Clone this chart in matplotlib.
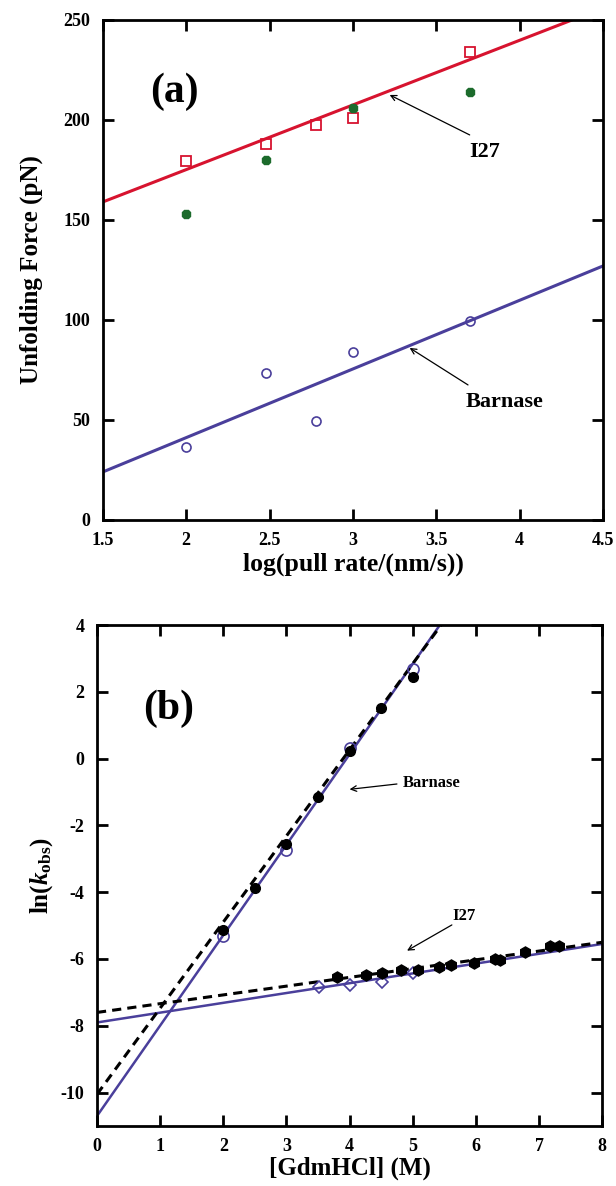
import numpy as np
import matplotlib.pyplot as plt

plt.rcParams['font.family'] = ['Liberation Serif', 'DejaVu Serif']
plt.rcParams['font.weight'] = 'bold'
plt.rcParams['axes.unicode_minus'] = False
plt.rcParams['mathtext.fontset'] = 'custom'
plt.rcParams['mathtext.rm'] = 'Liberation Serif:bold'
plt.rcParams['mathtext.it'] = 'Liberation Serif:bold:italic'

# ---- panel (a) data: unfolding force vs log pull rate ----
i27_x = [2.0, 2.48, 2.78, 3.0, 3.7]
i27_y = [179.5, 188, 197.5, 201, 234]
i27_green_x = [2.0, 2.48, 3.0, 3.7]
i27_green_y = [153, 180, 206, 214]
barnase_x = [2.0, 2.48, 2.78, 3.0, 3.7]
barnase_y = [36.5, 73.5, 49.5, 84, 99.5]
fit_x_a = [1.5, 4.5]
i27_fit_y = [159, 256]
barnase_fit_y = [24, 127]

# ---- panel (b) data: ln(k_obs) vs [GdmHCl] ----
bar_filled_x = [2.0, 2.5, 3.0, 3.5, 4.0, 4.5, 5.0]
bar_filled_y = [-5.13, -3.88, -2.55, -1.14, 0.24, 1.52, 2.45]
bar_open_x = [2.0, 3.0, 4.0, 5.0]
bar_open_y = [-5.31, -2.74, 0.32, 2.67]
i27_filled_x = [3.8, 4.26, 4.51, 4.81, 5.09, 5.41, 5.6, 5.97, 6.31, 6.39, 6.78, 7.18, 7.31]
i27_filled_y = [-6.53, -6.48, -6.41, -6.33, -6.33, -6.25, -6.18, -6.13, -6.01, -6.03, -5.8, -5.61, -5.61]
i27_open_x = [3.52, 4.01, 4.51, 5.0]
i27_open_y = [-6.83, -6.78, -6.68, -6.41]
bar_fit_x = [0, 5.43]
bar_fit_y = [-10.7, 4.0]
bar_dash_x = [0, 5.45]
bar_dash_y = [-10.05, 4.0]
i27_fit_x = [0, 8]
i27_fit_y_b = [-7.9, -5.55]
i27_dash_y = [-7.6, -5.5]

red = '#d7132f'
blue = '#4a3f9b'
green = '#1c6b2c'

fig = plt.figure(figsize=(6.16, 11.86), dpi=100)

def style(ax):
    ax.tick_params(direction='in', length=8, width=2, top=True, right=True,
                   labelsize=13, pad=9)
    for s in ax.spines.values():
        s.set_linewidth(2)
    for lab in ax.get_xticklabels() + ax.get_yticklabels():
        lab.set_fontweight('bold')

def arrow(ax, head, tail):
    ax.annotate('', xy=head, xytext=tail,
                arrowprops=dict(arrowstyle='->', color='black', lw=0.9,
                                shrinkA=0, shrinkB=0))

# panel (a)
ax1 = fig.add_axes([0.167, 0.5616, 0.812, 0.4216])
ax1.plot(fit_x_a, i27_fit_y, color=red, lw=2.2)
ax1.plot(fit_x_a, barnase_fit_y, color=blue, lw=2.2)
ax1.plot(i27_x, i27_y, 's', ms=7, mfc='none', mec=red, mew=1.3)
ax1.plot(i27_green_x, i27_green_y, '8', ms=6, color=green)
ax1.plot(barnase_x, barnase_y, 'o', ms=6.5, mfc='none', mec=blue, mew=1.2)
ax1.set_xlim(1.5, 4.5)
ax1.set_ylim(0, 250)
ax1.set_xticks([1.5, 2, 2.5, 3, 3.5, 4, 4.5])
ax1.set_xticklabels(['1.5', '2', '2.5', '3', '3.5', '4', '4.5'])
ax1.set_yticks([0, 50, 100, 150, 200, 250])
ax1.set_xlabel('log(pull rate/(nm/s))', fontsize=18.5, fontweight='bold')
ax1.xaxis.set_label_coords(0.5, -0.065)
ax1.set_ylabel('Unfolding Force (pN)', fontsize=18, fontweight='bold')
ax1.yaxis.set_label_coords(-0.12, 0.5)
ax1.text(1.93, 214, '(a)', fontsize=30, fontweight='bold', ha='center', va='center')
ax1.text(3.79, 184, 'I27', fontsize=16, fontweight='bold', ha='center', va='center')
arrow(ax1, (3.22, 212.5), (3.70, 192.5))
ax1.text(3.91, 59, 'Barnase', fontsize=16, fontweight='bold', ha='center', va='center')
arrow(ax1, (3.34, 86), (3.69, 67.5))
style(ax1)

# panel (b)
ax2 = fig.add_axes([0.1575, 0.0506, 0.82, 0.4224])
ax2.plot(bar_fit_x, bar_fit_y, color=blue, lw=1.8)
ax2.plot(i27_fit_x, i27_fit_y_b, color=blue, lw=1.8)
ax2.plot(bar_dash_x, bar_dash_y, color='black', lw=2.2, ls=(0, (3, 2)))
ax2.plot(i27_fit_x, i27_dash_y, color='black', lw=2.2, ls=(0, (3, 2)))
ax2.plot(bar_open_x, bar_open_y, 'o', ms=8, mfc='none', mec=blue, mew=1.2)
ax2.plot(bar_filled_x, bar_filled_y, 'o', ms=7, color='black')
ax2.plot(i27_open_x, i27_open_y, 'D', ms=6.5, mfc='none', mec=blue, mew=1.2)
ax2.plot(i27_filled_x, i27_filled_y, 'h', ms=8, color='black')
ax2.set_xlim(0, 8)
ax2.set_ylim(-11, 4)
ax2.set_xticks(range(0, 9))
ax2.set_yticks([-10, -8, -6, -4, -2, 0, 2, 4])
ax2.set_xlabel('[GdmHCl] (M)', fontsize=18, fontweight='bold')
ax2.xaxis.set_label_coords(0.5, -0.062)
ax2.set_ylabel(r'ln($\mathit{k}_{\mathrm{obs}}$)', fontsize=18, fontweight='bold')
ax2.yaxis.set_label_coords(-0.083, 0.5)
ax2.text(1.13, 1.5, '(b)', fontsize=30, fontweight='bold', ha='center', va='center')
ax2.text(4.84, -0.72, 'Barnase', fontsize=12, fontweight='bold', ha='left', va='center')
arrow(ax2, (4.0, -0.92), (4.75, -0.76))
ax2.text(5.82, -4.7, 'I27', fontsize=12, fontweight='bold', ha='center', va='center')
arrow(ax2, (4.91, -5.75), (5.62, -4.98))
style(ax2)

fig.savefig('out.png', dpi=100)
